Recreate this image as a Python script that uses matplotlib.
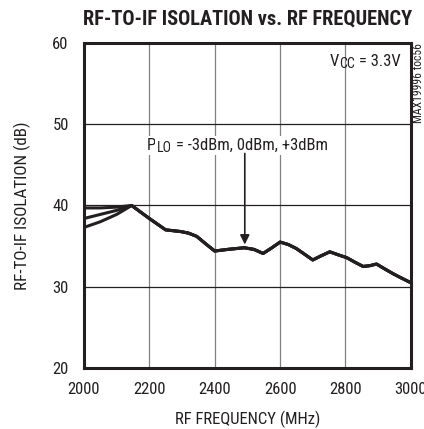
import matplotlib
matplotlib.use("Agg")
import matplotlib.pyplot as plt

plt.rcParams['font.family'] = ['Roboto Condensed', 'Liberation Sans Narrow', 'DejaVu Sans']

# ---- data ----
freq = [2000, 2050, 2100, 2146, 2200, 2250, 2295, 2320, 2345, 2375, 2400, 2440,
        2490, 2520, 2548, 2575, 2600, 2625, 2650, 2675, 2700, 2725, 2752, 2780,
        2803, 2830, 2854, 2875, 2895, 2920, 2946, 2970, 3000]
tail = [38.4, 37.0, 36.8, 36.6, 36.2, 35.2, 34.4, 34.6,
        34.8, 34.6, 34.1, 34.8, 35.5, 35.2, 34.7, 34.0, 33.3, 33.8, 34.3, 33.9,
        33.6, 33.0, 32.5, 32.6, 32.8, 32.2, 31.6, 31.1, 30.5]
iso_m3 = [39.7, 39.7, 39.8, 40.0] + tail
iso_0 = [38.4, 38.9, 39.4, 40.0] + tail
iso_p3 = [37.3, 38.0, 38.9, 40.0] + tail

xticks = [2000, 2200, 2400, 2600, 2800, 3000]
yticks = [20, 30, 40, 50, 60]

INK = "#231f20"
fig = plt.figure(figsize=(4.24, 4.29), dpi=100)
ax = fig.add_axes([0.198, 0.142, 0.771, 0.758])

for v in xticks[1:-1]:
    ax.axvline(v, color="#808080", lw=0.9, zorder=1)
for v in yticks[1:-1]:
    ax.axhline(v, color=INK, lw=0.9, zorder=1)

for s in (iso_m3, iso_0, iso_p3):
    ax.plot(freq, s, color=INK, lw=2.2, solid_capstyle="round", zorder=3)

ax.set_xlim(2000, 3000)
ax.set_ylim(20, 60)
ax.set_xticks(xticks)
ax.set_yticks(yticks)
ax.tick_params(length=0, labelsize=12, colors=INK)
ax.tick_params(axis="y", pad=11)
ax.tick_params(axis="x", pad=10)
for sp in ax.spines.values():
    sp.set_linewidth(2.2)
    sp.set_color(INK)

ax.set_xlabel("RF FREQUENCY (MHz)", fontsize=12, color=INK, labelpad=10)
ax.set_ylabel("RF-TO-IF ISOLATION (dB)", fontsize=12.3, color=INK, labelpad=15)
ax.set_title("RF-TO-IF ISOLATION vs. RF FREQUENCY", fontsize=14.7, fontweight="bold",
             color=INK, pad=13)


def sub_label(x, y, main, sub, rest, white=False):
    """main + lowered subscript + rest, chained left to right."""
    bb = dict(fc="white", ec="none", pad=1.5) if white else None
    t1 = ax.text(x, y, main, ha="left", va="bottom", fontsize=12, color=INK,
                 zorder=4, bbox=bb)
    t2 = ax.annotate(sub, xy=(1, 0), xycoords=t1, xytext=(0.3, -1.5),
                     textcoords="offset points", ha="left", va="bottom",
                     fontsize=10, color=INK, zorder=4, bbox=bb)
    ax.annotate(rest, xy=(1, 0), xycoords=t2, xytext=(0, 1.5),
                textcoords="offset points", ha="left", va="bottom",
                fontsize=12, color=INK, zorder=4, bbox=bb)


sub_label(2752, 56.8, "V", "CC", " = 3.3V")
sub_label(2193, 46.5, "P", "LO", " = -3dBm, 0dBm, +3dBm", white=True)
ax.annotate("", xy=(2492, 35.2), xytext=(2492, 46.4),
            arrowprops=dict(arrowstyle="-|>", color=INK, lw=1.2,
                            mutation_scale=14, shrinkA=0, shrinkB=0), zorder=4)
fig.text(0.986, 0.806, "MAX19996 toc56", rotation=90, ha="center", va="center",
         fontsize=8.5, color=INK)

fig.savefig("out.png", dpi=100)
